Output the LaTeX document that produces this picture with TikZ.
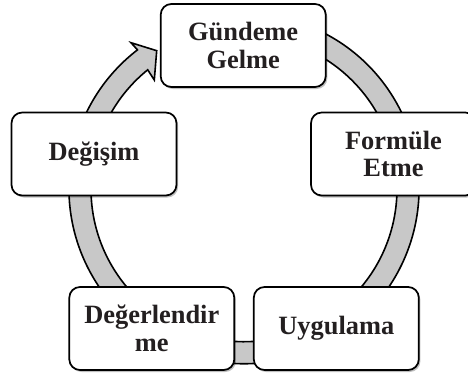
\documentclass[tikz,border=0pt]{standalone}
\usepackage{fontspec}
\setmainfont{Liberation Serif}
\usetikzlibrary{calc,shadows}
\definecolor{bandgray}{RGB}{200,200,200}
\definecolor{txt}{RGB}{35,31,32}
\begin{document}
\begin{tikzpicture}[x=0.75pt,y=0.75pt,
  stagebox/.style={draw=black, line width=1.3pt, fill=white, rounded corners=8pt,
    minimum width=123.75pt, minimum height=62.25pt, inner sep=0pt, align=center,
    font=\fontsize{19.8}{20.8}\selectfont\bfseries, text=txt,
    drop shadow={shadow xshift=1.2pt, shadow yshift=-1.5pt, opacity=0.25, fill=black}},
  band/.style={draw=black, line width=1.2pt, fill=bandgray, line join=miter}]
\useasboundingbox (0,0) rectangle (468,-379);
\clip (0,0) rectangle (468,-379);
\coordinate (C) at (244,-188.7);
\coordinate (ob) at (131,-42.7);
\coordinate (tip) at (156.7,-50.7);
\coordinate (ib) at (154.3,-80);
% ring with arrow head
\draw[band] ($(C)+(70:175)$) arc[start angle=70, end angle=-232.5, radius=175]
  -- (ob) -- (tip) -- (ib) -- ($(C)+(129:153)$)
  arc[start angle=-231, end angle=70, radius=153] -- cycle;
% stages
\node[stagebox] (g) at (243.2,-45.5) {Gündeme\\Gelme};
\node[stagebox] (f) at (393.5,-154) {Formüle\\Etme};
\node[stagebox] (u) at (336.3,-328.5) {Uygulama};
\node[stagebox] (d) at (151.8,-328.5) {Değerlendir\\me};
\node[stagebox] (c) at (94,-154) {Değişim};
\end{tikzpicture}
\end{document}
